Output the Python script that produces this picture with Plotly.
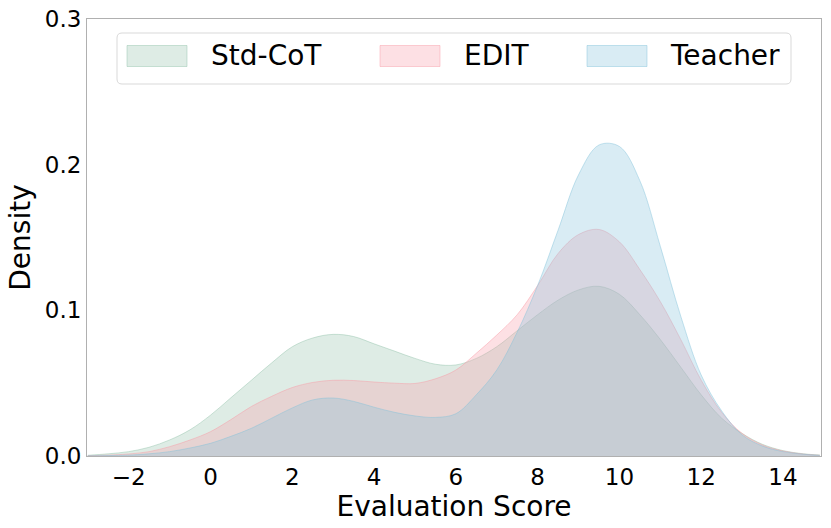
import plotly.graph_objects as go

# Evaluation score grid (x) and density readings for each model
SCORES = [-3, -2.5, -2, -1.5, -1, -0.5, 0, 0.5, 1, 1.5, 2, 2.5, 3, 3.5, 4, 4.5,
          5, 5.5, 6, 6.5, 7, 7.5, 8, 8.5, 9, 9.5, 10, 10.5, 11, 11.5, 12, 12.5,
          13, 13.5, 14, 14.5, 14.9]

STD_COT = [0.0005, 0.0015, 0.003, 0.006, 0.011, 0.018, 0.028, 0.040, 0.052, 0.064,
           0.075, 0.081, 0.0835, 0.082, 0.077, 0.072, 0.067, 0.063, 0.0625, 0.067,
           0.075, 0.086, 0.097, 0.107, 0.114, 0.1165, 0.111, 0.097, 0.080, 0.061,
           0.042, 0.026, 0.0155, 0.008, 0.0037, 0.0015, 0.0007]

EDIT = [0.0002, 0.0006, 0.0014, 0.003, 0.0064, 0.011, 0.0167, 0.025, 0.034, 0.041,
        0.047, 0.0505, 0.052, 0.0518, 0.0508, 0.050, 0.0498, 0.053, 0.059, 0.0705,
        0.083, 0.097, 0.117, 0.139, 0.152, 0.1555, 0.147, 0.128, 0.106, 0.080,
        0.052, 0.030, 0.0155, 0.0075, 0.0034, 0.0013, 0.0005]

TEACHER = [0.0001, 0.0003, 0.0006, 0.0015, 0.003, 0.0055, 0.0087, 0.0135, 0.019, 0.026,
           0.033, 0.0385, 0.0398, 0.0375, 0.0335, 0.030, 0.0275, 0.0265, 0.029, 0.042,
           0.059, 0.085, 0.117, 0.155, 0.193, 0.2135, 0.2125, 0.189, 0.144, 0.096,
           0.0556, 0.031, 0.0145, 0.0068, 0.003, 0.0012, 0.0004]

SERIES_NAMES = ["Std-CoT", "EDIT", "Teacher"]
X_TICKS = [-2, 0, 2, 4, 6, 8, 10, 12, 14]
Y_TICKS = [0.0, 0.1, 0.2, 0.3]

BASE = {"Std-CoT": (145, 192, 168), "EDIT": (248, 152, 165), "Teacher": (128, 192, 218)}
FILL_A = 0.3
LINE_A = 0.45


def rgba(c, a):
    return "rgba(%d,%d,%d,%.2f)" % (c[0], c[1], c[2], a)


fig = go.Figure()
for name, ys in zip(SERIES_NAMES, [STD_COT, EDIT, TEACHER]):
    c = BASE[name]
    fig.add_trace(go.Scatter(
        x=SCORES, y=ys, name=name, mode="lines",
        line=dict(color=rgba(c, LINE_A), width=1, shape="spline", smoothing=1.0),
        fill="tozeroy", fillcolor=rgba(c, FILL_A), showlegend=False,
        hoverinfo="x+y+name",
    ))

FONT = "DejaVu Sans, Arial, sans-serif"

# The page body margin is removed (post_script), so the figure fills the window.
W, H = 831, 528
# plot area in window pixels: x 87..821, y 19..456
L, R, T, B = 87, 831 - 821, 19, 528 - 456
PW, PH = W - L - R, H - T - B


def px2paper_x(px):
    return (px - L) / PW


def px2paper_y(py):
    return (H - B - py) / PH


shapes = []
annotations = []

# legend frame (rounded)
x0, x1 = px2paper_x(117), px2paper_x(791)
y0, y1 = px2paper_y(84), px2paper_y(33)
rx, ry = 5 / PW, 5 / PH
path = ("M {a},{b} L {c},{b} Q {x1},{b0} {x1},{d} L {x1},{e} Q {x1},{y1} {c},{y1} "
        "L {a},{y1} Q {x0},{y1} {x0},{e} L {x0},{d} Q {x0},{b0} {a},{b} Z").format(
    a=x0 + rx, b=y0, c=x1 - rx, x1=x1, b0=y0, d=y0 + ry, e=y1 - ry, y1=y1, x0=x0)
shapes.append(dict(type="path", xref="paper", yref="paper", path=path,
                   line=dict(color="#d9d9d9", width=1), fillcolor="rgba(255,255,255,0.8)"))

legend_items = [("Std-CoT", 127, 209), ("EDIT", 380, 462), ("Teacher", 587, 668)]
for name, pxs, ptx in legend_items:
    c = BASE[name]
    shapes.append(dict(type="rect", xref="paper", yref="paper",
                       x0=px2paper_x(pxs), x1=px2paper_x(pxs + 60),
                       y0=px2paper_y(66.5), y1=px2paper_y(45.5),
                       fillcolor=rgba(c, FILL_A), line=dict(color=rgba(c, LINE_A), width=1)))
    annotations.append(dict(xref="paper", yref="paper", x=px2paper_x(ptx), y=px2paper_y(56),
                            text=name, showarrow=False, xanchor="left", yanchor="middle",
                            font=dict(family=FONT, size=28, color="black")))

fig.update_layout(
    width=W, height=H,
    margin=dict(l=L, r=R, t=T, b=B, pad=0, autoexpand=False),
    paper_bgcolor="white", plot_bgcolor="white",
    font=dict(family=FONT, color="black"),
    shapes=shapes, annotations=annotations,
    showlegend=False,
)
fig.update_xaxes(
    range=[-3.02, 14.93], tickvals=X_TICKS, automargin=False,
    ticktext=[("\u2212%d" % abs(v)) if v < 0 else str(v) for v in X_TICKS],
    showgrid=False, zeroline=False, ticks="", ticklabeloverflow="allow",
    showline=True, linecolor="#b0b0b0", linewidth=1, mirror=True,
    tickfont=dict(size=23, family=FONT, color="black"),
    title=dict(text="Evaluation Score", font=dict(size=28, family=FONT, color="black"), standoff=0),
)
fig.update_yaxes(
    range=[0, 0.3], tickvals=Y_TICKS, ticktext=["%.1f" % v for v in Y_TICKS], automargin=False,
    showgrid=False, zeroline=False, ticks="", ticklabeloverflow="allow",
    showline=True, linecolor="#b0b0b0", linewidth=1, mirror=True,
    tickfont=dict(size=23, family=FONT, color="black"),
    title=dict(text="Density", font=dict(size=28, family=FONT, color="black"), standoff=6),
)

fig.write_html(
    "out.html",
    config={"displayModeBar": False},
    post_script="document.body.style.margin='0px';document.body.style.overflow='hidden';",
)
